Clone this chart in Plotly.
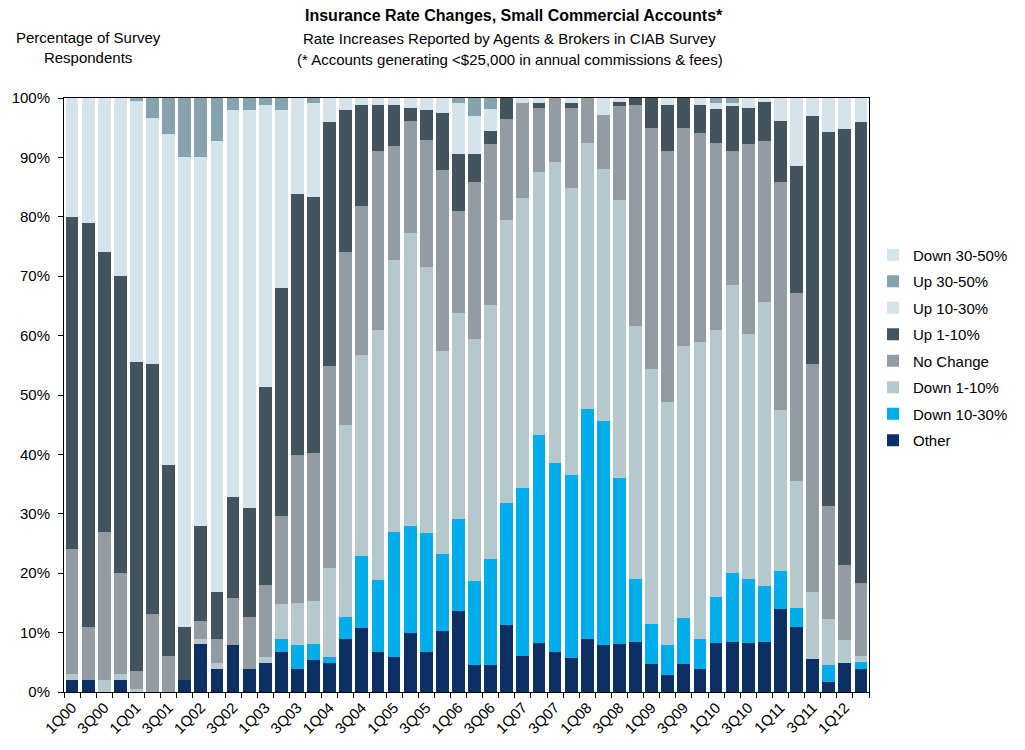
import plotly.graph_objects as go

# Survey quarters, 1Q00 through 2Q12
quarters = [f"{q}Q{y:02d}" for y in range(0, 13) for q in (1, 2, 3, 4)][:50]

# Share of respondents (%) per quarter, bottom segment first
other = [2, 2, 0, 2, 0, 0, 0, 2, 8, 3.8, 7.9, 3.8, 4.8, 6.8, 3.8, 5.4, 4.8, 8.9, 10.7, 6.8,
         5.9, 9.9, 6.7, 10.2, 13.6, 4.5, 4.5, 11.2, 6.0, 8.2, 6.7, 5.7, 8.9, 7.9, 8.0, 8.4, 4.7, 2.8, 4.7, 3.8,
         8.2, 8.5, 8.2, 8.5, 14.0, 11.0, 5.5, 1.7, 4.8, 3.8]
down_10_30 = [0, 0, 0, 0, 0, 0, 0, 0, 0, 0, 0, 0, 0, 2.1, 4.1, 2.6, 1.1, 3.8, 12.2, 12.0,
              21.0, 18.1, 20.0, 13.1, 15.5, 14.2, 17.9, 20.6, 28.3, 35.0, 31.9, 30.8, 38.8, 37.8, 28.1, 10.6, 6.7, 5.1, 7.7, 5.1,
              7.8, 11.5, 10.8, 9.3, 6.3, 3.1, 0, 2.8, 0, 1.2]
down_1_10 = [1, 0, 2, 1, 0.5, 0, 0, 0, 1, 1, 0, 0, 1.1, 5.9, 7.0, 7.4, 14.9, 32.2, 33.9, 42.1,
             45.9, 49.2, 44.9, 34.1, 34.7, 40.7, 42.8, 47.7, 48.8, 44.3, 50.7, 48.4, 44.8, 42.4, 46.7, 42.6, 42.9, 41.0, 45.8, 50.0,
             45.0, 48.5, 41.2, 47.8, 27.1, 21.4, 11.4, 7.8, 3.9, 1.0]
no_change = [21, 9, 25, 17, 3, 13.1, 6, 0, 3, 4.1, 7.9, 8.9, 12.1, 14.9, 25.0, 24.8, 34.0, 29.1, 25.1, 30.1,
             19.2, 18.9, 21.4, 30.4, 17.1, 26.4, 27.1, 16.9, 16.1, 10.8, 10.7, 13.4, 7.5, 9.1, 15.8, 37.3, 40.7, 42.1, 36.8, 35.2,
             31.5, 22.6, 32.1, 27.2, 38.4, 31.7, 38.3, 19.0, 12.6, 12.3]
up_1_10 = [56, 68, 47, 50, 52, 42.2, 32.3, 9, 16, 8, 17.1, 18.2, 33.4, 38.3, 44.0, 43.2, 41.1, 23.9, 17.0, 7.9,
           6.9, 2.3, 4.9, 9.6, 9.6, 4.7, 2.1, 3.6, 0, 0.9, 0, 0.9, 0, 0, 0.7, 1.1, 5.0, 7.9, 5.0, 4.8,
           5.6, 7.6, 6.1, 6.6, 10.3, 21.4, 41.8, 62.9, 73.5, 77.6]
up_10_30 = [20, 21, 26, 30, 44, 41.4, 55.6, 79, 62, 75.9, 65, 67, 47.5, 29.9, 16.1, 15.8, 4.1, 2.1, 1.1, 1.1,
            1.1, 1.6, 2.1, 2.6, 8.7, 6.5, 3.7, 0, 0.8, 0.8, 0, 0.8, 0, 2.8, 0.7, 0, 0, 1.1, 0, 1.1,
            1.0, 0.5, 1.6, 0.6, 3.9, 11.4, 3.0, 5.8, 5.2, 4.1]
up_30_50 = [0, 0, 0, 0, 0.5, 3.3, 6.1, 10, 10, 7.2, 2.1, 2.1, 1.1, 2.1, 0, 0.8, 0, 0, 0, 0,
            0, 0, 0, 0, 0.8, 3.0, 1.9, 0, 0, 0, 0, 0, 0, 0, 0, 0, 0, 0, 0, 0,
            0.9, 0.8, 0, 0, 0, 0, 0, 0, 0, 0]
down_30_50 = [0] * 50

series = [
    ("Other", other, "#0c2f64"),
    ("Down 10-30%", down_10_30, "#00adeb"),
    ("Down 1-10%", down_1_10, "#b5c8ce"),
    ("No Change", no_change, "#949ca3"),
    ("Up 1-10%", up_1_10, "#44545f"),
    ("Up 10-30%", up_10_30, "#d5e3ea"),
    ("Up 30-50%", up_30_50, "#84a3ae"),
    ("Down 30-50%", down_30_50, "#d5e3ea"),
]

FONT = "Arial, Liberation Sans, sans-serif"

fig = go.Figure()
n = len(series)
for k, (name, vals, color) in enumerate(series):
    fig.add_trace(go.Bar(
        x=quarters, y=vals, name=name, legendgroup=name,
        legendrank=n - k,  # top of the stack listed first
        marker=dict(color=color, line=dict(width=0)),
        hoverinfo="x+y+name",
    ))

fig.update_layout(
    barmode="stack",
    bargap=0.2,
    width=1025, height=750,
    margin=dict(l=61, r=150, t=98, b=58),
    paper_bgcolor="white", plot_bgcolor="white",
    font=dict(family=FONT, size=15, color="#000"),
    showlegend=True,
    legend=dict(
        traceorder="grouped", tracegroupgap=4,
        x=1.005, xanchor="left", y=0.58, yanchor="middle",
        font=dict(size=15), bgcolor="rgba(0,0,0,0)",
    ),
)

fig.update_xaxes(
    type="category",
    tickvals=quarters,
    ticktext=[q if i % 2 == 0 else "" for i, q in enumerate(quarters)],
    tickangle=-45, tickson="boundaries",
    ticks="outside", ticklen=5, tickcolor="#000",
    showline=True, linecolor="#000", linewidth=1, mirror=True,
    showgrid=False, tickfont=dict(size=15),
)
fig.update_yaxes(
    range=[0, 100], dtick=10, ticksuffix="%",
    ticks="outside", ticklen=5, tickcolor="#000",
    showline=True, linecolor="#000", linewidth=1, mirror=True,
    showgrid=False, zeroline=False, tickfont=dict(size=15),
    ticklabelstandoff=5,
)

# Heading block
fig.add_annotation(text="<b>Insurance Rate Changes, Small Commercial Accounts*</b>",
                   xref="paper", yref="paper", x=0.559, y=1, yshift=83,
                   xanchor="center", yanchor="middle", showarrow=False,
                   font=dict(size=16, family=FONT))
fig.add_annotation(text="Rate Increases Reported by Agents &amp; Brokers in CIAB Survey",
                   xref="paper", yref="paper", x=0.554, y=1, yshift=60,
                   xanchor="center", yanchor="middle", showarrow=False,
                   font=dict(size=15, family=FONT))
fig.add_annotation(text="(* Accounts generating &lt;$25,000 in annual commissions &amp; fees)",
                   xref="paper", yref="paper", x=0.554, y=1, yshift=39,
                   xanchor="center", yanchor="middle", showarrow=False,
                   font=dict(size=15, family=FONT))
fig.add_annotation(text="Percentage of Survey<br>Respondents",
                   xref="paper", yref="paper", x=0.031, y=1, yshift=51,
                   xanchor="center", yanchor="middle", showarrow=False, align="center",
                   font=dict(size=15, family=FONT))

fig.write_html("out.html")
